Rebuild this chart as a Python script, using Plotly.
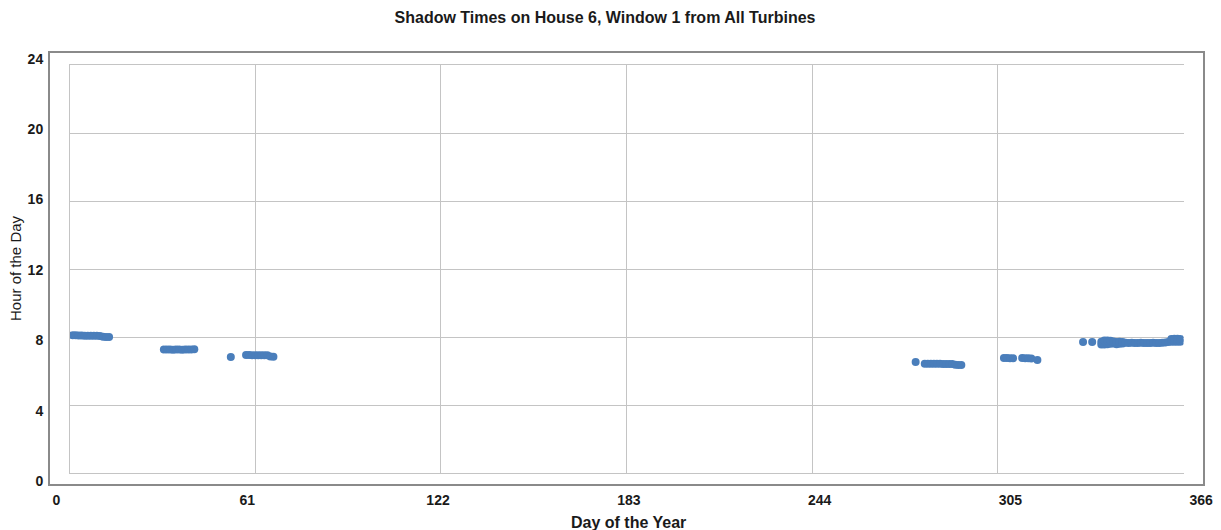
import plotly.graph_objects as go

# Shadow flicker events (day of year, hour of day) for House 6, Window 1
days_jan = [1, 2, 3, 4, 5, 6, 7, 8, 9, 10, 11, 12, 13]
hours_jan = [8.10, 8.10, 8.09, 8.09, 8.08, 8.08, 8.08, 8.07, 8.07, 8.06, 8.01, 8.00, 8.00]

days_feb = [31, 32, 33, 34, 35, 36, 37, 38, 39, 40, 41]
hours_feb = [7.27, 7.26, 7.26, 7.25, 7.26, 7.26, 7.25, 7.26, 7.26, 7.27, 7.28]

days_mar = [53, 58, 59, 60, 61, 62, 63, 64, 65, 66, 67]
hours_mar = [6.82, 6.94, 6.94, 6.93, 6.93, 6.93, 6.93, 6.92, 6.92, 6.86, 6.84]

days_oct = [278, 281, 282, 283, 284, 285, 286, 287, 288, 289, 290, 291, 292, 293]
hours_oct = [6.53, 6.43, 6.42, 6.42, 6.42, 6.42, 6.42, 6.41, 6.41, 6.41, 6.41, 6.37, 6.36, 6.35]

days_nov = [307, 308, 309, 310, 313, 314, 315, 316, 318]
hours_nov = [6.76, 6.76, 6.75, 6.75, 6.76, 6.75, 6.75, 6.74, 6.65]

days_dec = [333, 336,
            339, 339, 340, 340, 341, 341, 342, 342, 343, 343, 344, 344, 345, 345, 346, 346,
            347, 348, 349, 350, 351, 352, 353, 354, 355, 356, 357, 358, 359, 360, 361,
            362, 362, 363, 363, 364, 364, 365, 365]
hours_dec = [7.70, 7.70,
             7.56, 7.72, 7.56, 7.80, 7.58, 7.80, 7.60, 7.78, 7.62, 7.74, 7.58, 7.70, 7.60, 7.72, 7.62, 7.70,
             7.66, 7.64, 7.66, 7.65, 7.64, 7.66, 7.65, 7.64, 7.65, 7.66, 7.65, 7.64, 7.66, 7.68, 7.70,
             7.72, 7.88, 7.72, 7.90, 7.72, 7.90, 7.72, 7.88]

x_ticks = [0, 61, 122, 183, 244, 305, 366]
y_ticks = [0, 4, 8, 12, 16, 20, 24]
x_grid = [0, 61, 122, 183, 244, 305]

TITLE = "Shadow Times on House 6, Window 1 from All Turbines"
X_TITLE = "Day of the Year"
Y_TITLE = "Hour of the Day"

W, H = 1221, 530
FONT = "Liberation Sans, Arial, sans-serif"
TEXT = "#1a1a1a"
FRAME = "#8a8a8a"
GRID = "#c4c4c4"
DOT = "#4a7ebb"


def fx(px):
    return px / W


def fy(py):
    return 1 - py / H


all_days = days_jan + days_feb + days_mar + days_oct + days_nov + days_dec
all_hours = hours_jan + hours_feb + hours_mar + hours_oct + hours_nov + hours_dec

fig = go.Figure()

# invisible trace to activate the outer (labelled) frame
fig.add_trace(go.Scatter(x=[None], y=[None], xaxis="x", yaxis="y",
                         mode="markers", hoverinfo="skip", showlegend=False))

fig.add_trace(go.Scatter(
    x=all_days, y=all_hours, xaxis="x2", yaxis="y2",
    mode="markers",
    marker=dict(color=DOT, size=8, line=dict(width=0)),
    showlegend=False,
))

tick_font = dict(family=FONT, size=14, color=TEXT, weight="bold")

fig.update_layout(
    width=W, height=H,
    margin=dict(l=0, r=0, t=0, b=0, autoexpand=False),
    paper_bgcolor="white",
    plot_bgcolor="white",
    showlegend=False,
    title=dict(text=TITLE, x=fx(605), xanchor="center", y=fy(17), yanchor="middle",
               automargin=False,
               font=dict(family=FONT, size=16, color=TEXT, weight="bold")),
    xaxis=dict(domain=[fx(50), fx(1203)], range=[-2.08, 366.6], anchor="y",
               automargin=False,
               tickvals=x_ticks, ticktext=[str(v) for v in x_ticks],
               showgrid=False, zeroline=False, showline=True, mirror=True,
               linecolor=FRAME, linewidth=2,
               ticks="outside", ticklen=2, tickcolor="rgba(0,0,0,0)",
               tickfont=tick_font),
    yaxis=dict(domain=[fy(484), fy(53)], range=[-0.17, 24.32], anchor="x",
               automargin=False,
               tickvals=y_ticks, ticktext=[str(v) for v in y_ticks],
               showgrid=False, zeroline=False, showline=True, mirror=True,
               linecolor=FRAME, linewidth=2,
               ticks="outside", ticklen=2, tickcolor="rgba(0,0,0,0)",
               tickfont=tick_font),
    xaxis2=dict(domain=[fx(69.5), fx(1183.5)], range=[0, 366], anchor="y2",
                automargin=False,
                tickvals=x_grid, showticklabels=False,
                showgrid=True, gridcolor=GRID, gridwidth=1, zeroline=False,
                showline=True, mirror=True, linecolor=GRID, linewidth=1, ticks=""),
    yaxis2=dict(domain=[fy(473), fy(65)], range=[0, 24], anchor="x2",
                automargin=False,
                tickvals=y_ticks, showticklabels=False,
                showgrid=True, gridcolor=GRID, gridwidth=1, zeroline=False,
                showline=True, mirror=False, linecolor=GRID, linewidth=1, ticks=""),
    annotations=[
        dict(text=X_TITLE, x=fx(628), y=fy(522), xref="paper", yref="paper",
             xanchor="center", yanchor="middle", showarrow=False,
             font=dict(family=FONT, size=16, color=TEXT, weight="bold")),
        dict(text=Y_TITLE, x=fx(15), y=fy(268), xref="paper", yref="paper",
             xanchor="center", yanchor="middle", showarrow=False, textangle=-90,
             font=dict(family=FONT, size=15, color=TEXT)),
    ],
)

fig.write_html("out.html")
